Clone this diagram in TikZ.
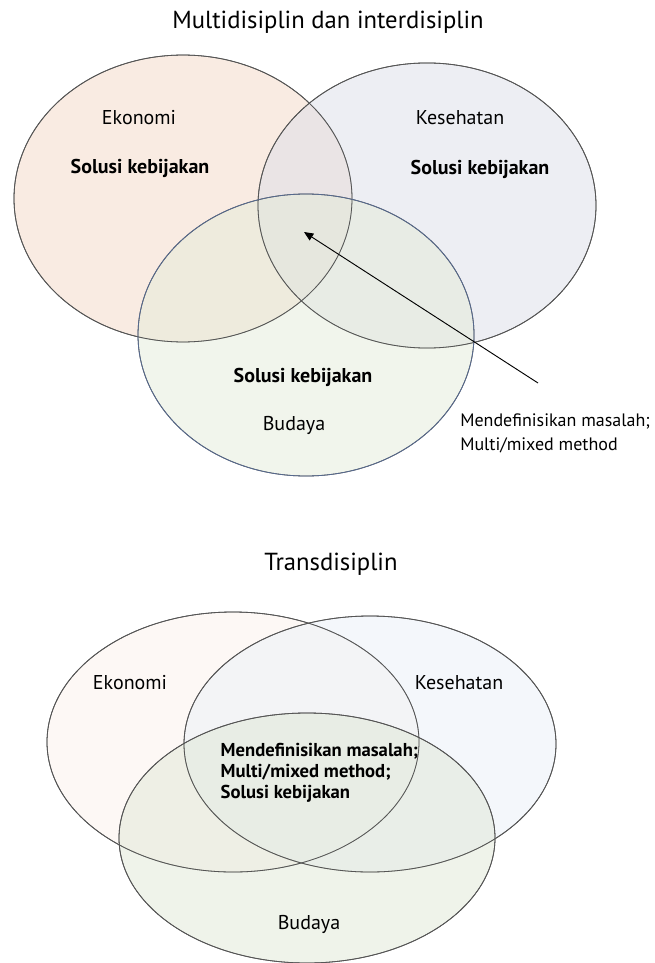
\documentclass[tikz,border=0pt]{standalone}
\usepackage{fontspec}
\setmainfont{PT Sans}
\usepackage{xcolor}
\usetikzlibrary{arrows.meta}

\definecolor{ekoA}{HTML}{F3D8C6}
\definecolor{kesA}{HTML}{DBDDE7}
\definecolor{budA}{HTML}{E3EBD9}
\definecolor{ekoB}{HTML}{FBF2EC}
\definecolor{kesB}{HTML}{E9EFF7}
\definecolor{budB}{HTML}{DFE7D5}
\definecolor{rimgray}{HTML}{555555}
\definecolor{rimblue}{HTML}{55698F}

\tikzset{
  circ/.style={draw=rimgray, line width=0.6pt, fill opacity=0.5},
  lbl/.style={font=\fontsize{15}{18}\selectfont},
  bold lbl/.style={font=\fontsize{15}{18}\selectfont\bfseries},
  ttl/.style={font=\fontsize{18.5}{22}\selectfont}
}

\begin{document}
\begin{tikzpicture}[x=0.75pt, y=-0.75pt]
  \useasboundingbox (0,0) rectangle (655,963);

  % Multidisiplin dan interdisiplin
  \node[ttl] (ttlA) at (328,22) {Multidisiplin dan interdisiplin};
  \fill[circ, fill=ekoA] (183,198.5) ellipse [x radius=126.75pt, y radius=107.6pt];
  \fill[circ, fill=kesA] (427,205.5) ellipse [x radius=126.75pt, y radius=106.9pt];
  \fill[circ, fill=budA] (306,335) ellipse [x radius=126pt, y radius=105.75pt];
  \draw[circ] (183,198.5) ellipse [x radius=126.75pt, y radius=107.6pt];
  \draw[circ] (427,205.5) ellipse [x radius=126.75pt, y radius=106.9pt];
  \draw[circ, draw=rimblue] (306,335) ellipse [x radius=126pt, y radius=105.75pt];

  \node[lbl] (ekoA) at (139,118) {Ekonomi};
  \node[bold lbl] (solEkoA) at (140,168) {Solusi kebijakan};
  \node[lbl] (kesA) at (460,118) {Kesehatan};
  \node[bold lbl] (solKesA) at (480,169) {Solusi kebijakan};
  \node[bold lbl] (solBudA) at (303,377) {Solusi kebijakan};
  \node[lbl] (budA) at (294,425) {Budaya};
  \node[lbl, anchor=west, align=left, inner sep=0pt, font=\fontsize{13.5}{18}\selectfont] (defA) at (460,433)
    {Mendefinisikan masalah;\\Multi/mixed method};

  \coordinate (tail) at (538,383);
  \coordinate (tip) at (304,232);
  \draw[-{Triangle[length=7pt,width=6pt]}, line width=0.7pt] (tail) -- (tip);

  % Transdisiplin
  \node[ttl] (ttlB) at (331,564) {Transdisiplin};
  \fill[circ, fill=ekoB] (233,742) ellipse [x radius=139.5pt, y radius=97.5pt];
  \fill[circ, fill=kesB] (370,744) ellipse [x radius=139.5pt, y radius=96pt];
  \fill[circ, fill=budB] (307,838) ellipse [x radius=141pt, y radius=93.75pt];
  \draw[circ] (233,742) ellipse [x radius=139.5pt, y radius=97.5pt];
  \draw[circ] (370,744) ellipse [x radius=139.5pt, y radius=96pt];
  \draw[circ] (307,838) ellipse [x radius=141pt, y radius=93.75pt];

  \node[lbl] (ekoB) at (130,683) {Ekonomi};
  \node[lbl] (kesB) at (459,683) {Kesehatan};
  \node[bold lbl, anchor=west, align=left, font=\fontsize{14}{15.75}\selectfont\bfseries] (defB) at (216,773)
    {Mendefinisikan masalah;\\Multi/mixed method;\\Solusi kebijakan};
  \node[lbl] (budB) at (309,924) {Budaya};
\end{tikzpicture}
\end{document}
